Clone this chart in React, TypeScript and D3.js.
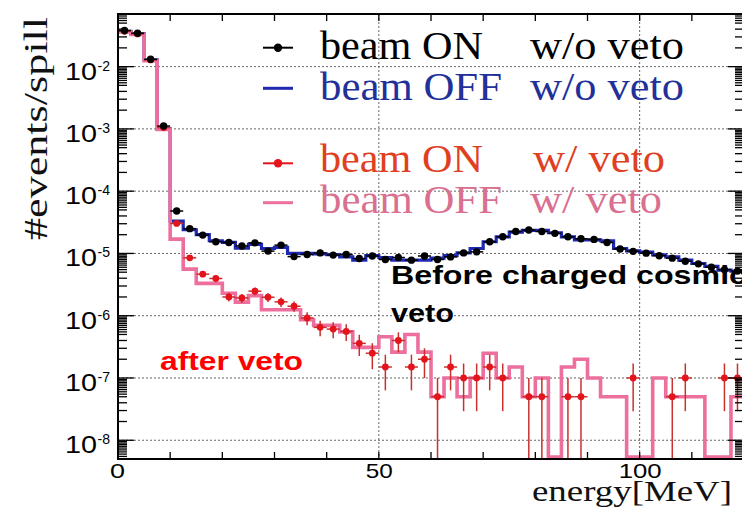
import React from 'react';
import * as d3 from 'd3';

// ---------- data (bin width 2.5 MeV, 48 bins from 0 to 120 MeV) ----------
const binWidth = 2.5;
const beamOnNoVeto = [
  3.8e-2, 3.44e-2, 1.31e-2, 1.11e-3, 4.8e-5, 2.5e-5, 1.97e-5, 1.54e-5, 1.5e-5, 1.32e-5,
  1.48e-5, 1.09e-5, 1.36e-5, 8.9e-6, 9.6e-6, 1.02e-5, 9.4e-6, 9.6e-6, 8.3e-6, 9.1e-6,
  8.0e-6, 8.6e-6, 7.8e-6, 9.1e-6, 8.0e-6, 8.8e-6, 1.02e-5, 1.06e-5, 1.54e-5, 1.85e-5,
  2.25e-5, 2.38e-5, 2.25e-5, 2.1e-5, 1.85e-5, 1.72e-5, 1.68e-5, 1.5e-5, 1.18e-5, 1.08e-5,
  1.01e-5, 9.2e-6, 8.4e-6, 7.5e-6, 6.8e-6, 6.0e-6, 5.5e-6, 5.2e-6,
];
const beamOffNoVeto = [
  3.7e-2, 3.4e-2, 1.28e-2, 1.0e-3, 3.3e-5, 2.4e-5, 2.0e-5, 1.6e-5, 1.5e-5, 1.22e-5,
  1.4e-5, 1.2e-5, 1.25e-5, 1.0e-5, 1.0e-5, 9.8e-6, 9.6e-6, 8.8e-6, 7.8e-6, 9.2e-6,
  8.6e-6, 7.8e-6, 7.8e-6, 7.8e-6, 8.4e-6, 9.2e-6, 1.02e-5, 1.2e-5, 1.54e-5, 1.85e-5,
  2.2e-5, 2.35e-5, 2.35e-5, 2.15e-5, 1.85e-5, 1.65e-5, 1.65e-5, 1.6e-5, 1.2e-5, 1.1e-5,
  1.05e-5, 9.5e-6, 8.8e-6, 7.8e-6, 6.9e-6, 6.2e-6, 5.4e-6, 5.2e-6,
];
const beamOnVeto = [
  3.7e-2, 3.35e-2, 1.28e-2, 1.05e-3, 3.03e-5, 8.5e-6, 4.65e-6, 3.96e-6, 2.0e-6, 1.93e-6,
  2.48e-6, 1.98e-6, 1.67e-6, 1.42e-6, 9.2e-7, 6.5e-7, 6.1e-7, 5.6e-7, 3.6e-7, 2.5e-7,
  1.5e-7, 4.0e-7, 1.5e-7, 2.0e-7, 5e-8, 1.5e-7, 1e-7, 1e-7, 1.5e-7, 1e-7,
  0, 5e-8, 5e-8, 0, 5e-8, 5e-8, 0, 0, 0, 1e-7,
  0, 0, 5e-8, 1e-7, 0, 0, 1e-7, 1e-7,
];
const beamOffVeto = [
  3.6e-2, 3.3e-2, 1.25e-2, 9.8e-4, 1.7e-5, 5.6e-6, 3.3e-6, 3.3e-6, 2.3e-6, 1.65e-6,
  2.1e-6, 1.25e-6, 1.25e-6, 1.25e-6, 8.6e-7, 7.0e-7, 7.0e-7, 5.5e-7, 3.1e-7, 3.1e-7,
  4.6e-7, 2.6e-7, 5.0e-7, 2.6e-7, 5e-8, 1e-7, 5e-8, 1e-7, 2.5e-7, 1e-7,
  1.5e-7, 5e-8, 1e-7, 0, 1.5e-7, 2e-7, 1e-7, 5e-8, 5e-8, 0,
  0, 1e-7, 5e-8, 5e-8, 5e-8, 0, 0, 5e-8,
];
const eventWeight = 5e-8; // one event per spill-normalised unit
const yDecadeExps = [-2, -3, -4, -5, -6, -7, -8];
const xTickLabels = [0, 50, 100];
const legendRows = [
  { left: 'beam ON', right: 'w/o veto', color: '#000000', marker: 'point', mcolor: '#000000' },
  { left: 'beam OFF', right: 'w/o veto', color: '#22309a', marker: 'line', mcolor: '#1e28b0' },
  { left: 'beam ON', right: 'w/ veto', color: '#e0401f', marker: 'point', mcolor: '#e3141b' },
  { left: 'beam OFF', right: 'w/ veto', color: '#d9708f', marker: 'line', mcolor: '#ec6f9d' },
];

// ---------- layout ----------
const W = 742, H = 522;
const L = 118, R = 744, T = 14, B = 459;

export default function App() {
  const x = d3.scaleLinear().domain([0, 120]).range([L, R]);
  const y = d3.scaleLog().domain([5e-9, 7e-2]).range([B, T]);
  const yc = (v: number) => (v > 0 ? Math.min(y(v), B - 2) : B - 2);

  const stepPath = (vals: number[]) => {
    let d = '';
    vals.forEach((v, i) => {
      const x0 = x(i * binWidth), x1 = x((i + 1) * binWidth), yy = yc(v);
      d += (i === 0 ? `M${x0},${yy}` : `V${yy}`) + `H${x1}`;
    });
    return d;
  };

  const points = (vals: number[], color: string, barColor: string, key: string, r: number) =>
    vals.map((v, i) => {
      if (!(v > 0)) return null;
      const cx = x((i + 0.5) * binWidth);
      const n = v / eventWeight;
      const err = Math.sqrt(n) * eventWeight;
      const lo = v - err, hi = v + err;
      const ylo = lo > 0 ? Math.min(y(lo), B + 5) : B + 5;
      return (
        <g key={key + i}>
          <line x1={cx} x2={cx} y1={ylo} y2={y(hi)} stroke={barColor} strokeWidth={1.5} />
          <line x1={x(i * binWidth)} x2={x((i + 1) * binWidth)} y1={y(v)} y2={y(v)} stroke={barColor} strokeWidth={1.5} />
          <circle cx={cx} cy={y(v)} r={r} fill={color} />
        </g>
      );
    });

  // y ticks
  const yMajor = yDecadeExps.map((e) => Math.pow(10, e));
  const yMinor: number[] = [];
  for (let e = -9; e <= -2; e++) {
    [2, 3, 4, 5, 5.5, 6, 6.5, 7, 7.5, 8, 8.5, 9, 9.5].forEach((k) => {
      const v = k * Math.pow(10, e);
      if (v > 5e-9 && v < 7e-2) yMinor.push(v);
    });
  }
  const xTicks = d3.range(0, 121, 10);

  return (
    <svg width={W} height={H} style={{ position: 'absolute', left: 0, top: 0, background: '#fff' }}>
      <defs>
        <clipPath id="plot">
          <rect x={L} y={T} width={R - L} height={B - T} />
        </clipPath>
      </defs>
      <rect x={0} y={0} width={W} height={H} fill="#fff" />

      {/* grid */}
      <g stroke="#666" strokeWidth={1} strokeDasharray="2,2">
        {yMajor.map((v) => (
          <line key={'gy' + v} x1={L} x2={R} y1={y(v)} y2={y(v)} />
        ))}
        {[50, 100].map((v) => (
          <line key={'gx' + v} x1={x(v)} x2={x(v)} y1={T} y2={B} />
        ))}
      </g>

      {/* histograms and points */}
      <g clipPath="url(#plot)">
        <path d={stepPath(beamOffNoVeto)} fill="none" stroke="#1e28b0" strokeWidth={3.2} />
        <path d={stepPath(beamOffVeto)} fill="none" stroke="#ec6f9d" strokeWidth={3.6} />
        {points(beamOnVeto, '#e3141b', '#c9302c', 'r', 3.4)}
        {points(beamOnNoVeto, '#000', '#000', 'k', 3.7)}
      </g>

      {/* frame */}
      <rect x={L} y={T} width={R - L} height={B - T} fill="none" stroke="#000" strokeWidth={2} />
      {/* y ticks left & right, x ticks bottom & top */}
      <g stroke="#000" strokeWidth={1.3}>
        {yMajor.map((v) => (
          <g key={'ym' + v}>
            <line x1={L} x2={L + 16} y1={y(v)} y2={y(v)} />
            <line x1={R - 16} x2={R} y1={y(v)} y2={y(v)} />
          </g>
        ))}
        {yMinor.map((v) => (
          <g key={'yn' + v}>
            <line x1={L} x2={L + 9} y1={y(v)} y2={y(v)} />
            <line x1={R - 9} x2={R} y1={y(v)} y2={y(v)} />
          </g>
        ))}
        {xTicks.map((v) => (
          <g key={'xt' + v}>
            <line x1={x(v)} x2={x(v)} y1={B} y2={B - 7} />
            <line x1={x(v)} x2={x(v)} y1={T} y2={T + 7} />
          </g>
        ))}
      </g>

      {/* tick labels */}
      <g fontFamily="'Liberation Sans', Arial, sans-serif" fill="#000">
        {yDecadeExps.map((e) => {
          const yy = y(Math.pow(10, e));
          return (
            <g key={'yl' + e}>
              <text x={65} y={yy + 13} fontSize={24} textLength={32} lengthAdjust="spacingAndGlyphs">10</text>
              <text x={97.5} y={yy + 4} fontSize={15} textLength={12.5} lengthAdjust="spacingAndGlyphs">{String(e)}</text>
            </g>
          );
        })}
        {xTickLabels.map((v) => {
          const s = String(v);
          const w = s.length === 1 ? 15 : s.length === 2 ? 27 : 43;
          return (
            <text key={'xl' + v} x={x(v) - w / 2 + (v === 0 ? -0.5 : 0.5)} y={478} fontSize={21} textLength={w} lengthAdjust="spacingAndGlyphs">
              {s}
            </text>
          );
        })}
      </g>

      {/* axis titles */}
      <text x={532} y={501} fontFamily="'Liberation Serif', 'Times New Roman', serif" fontSize={30} textLength={200} lengthAdjust="spacingAndGlyphs" fill="#111">
        energy[MeV]
      </text>
      <text transform="translate(47,128.5) rotate(-90)" textAnchor="middle" fontFamily="'Liberation Serif', 'Times New Roman', serif" fontSize={34} textLength={223} lengthAdjust="spacingAndGlyphs" fill="#111">
        #events/spill
      </text>

      {/* legend */}
      <g fontFamily="'Liberation Serif', 'Times New Roman', serif" fontSize={39}>
        {legendRows.map((r, i) => {
          const base = [59, 100, 172, 213][i];
          const my = [47.7, 88.3, 163.3, 202.7][i];
          const rightX = r.right === 'w/ veto' && r.left === 'beam ON' ? 533 : 530;
          const rightW = r.right === 'w/o veto' ? 154 : 132;
          return (
            <g key={'lg' + i}>
              {r.marker === 'point' ? (
                <g>
                  <line x1={263} x2={293} y1={my} y2={my} stroke={r.mcolor} strokeWidth={2} />
                  <circle cx={278} cy={my} r={4.2} fill={r.mcolor} />
                </g>
              ) : (
                <line x1={263} x2={293} y1={my} y2={my} stroke={r.mcolor} strokeWidth={3} />
              )}
              <text x={320} y={base} fill={r.color} textLength={r.left === 'beam ON' ? 163 : 182} lengthAdjust="spacingAndGlyphs">
                {r.left}
              </text>
              <text x={rightX} y={base} fill={r.color} textLength={rightW} lengthAdjust="spacingAndGlyphs">
                {r.right}
              </text>
            </g>
          );
        })}
      </g>

      {/* annotations */}
      <g fontFamily="'Liberation Sans', Arial, sans-serif" fontWeight="bold" fontSize={25}>
        <text x={391} y={284} fill="#000" textLength={356} lengthAdjust="spacingAndGlyphs">Before charged cosmic</text>
        <text x={391} y={322} fill="#000" textLength={63} lengthAdjust="spacingAndGlyphs">veto</text>
        <text x={160} y={370} fill="#ff0000" fontSize={26} textLength={143} lengthAdjust="spacingAndGlyphs">after veto</text>
      </g>
    </svg>
  );
}
